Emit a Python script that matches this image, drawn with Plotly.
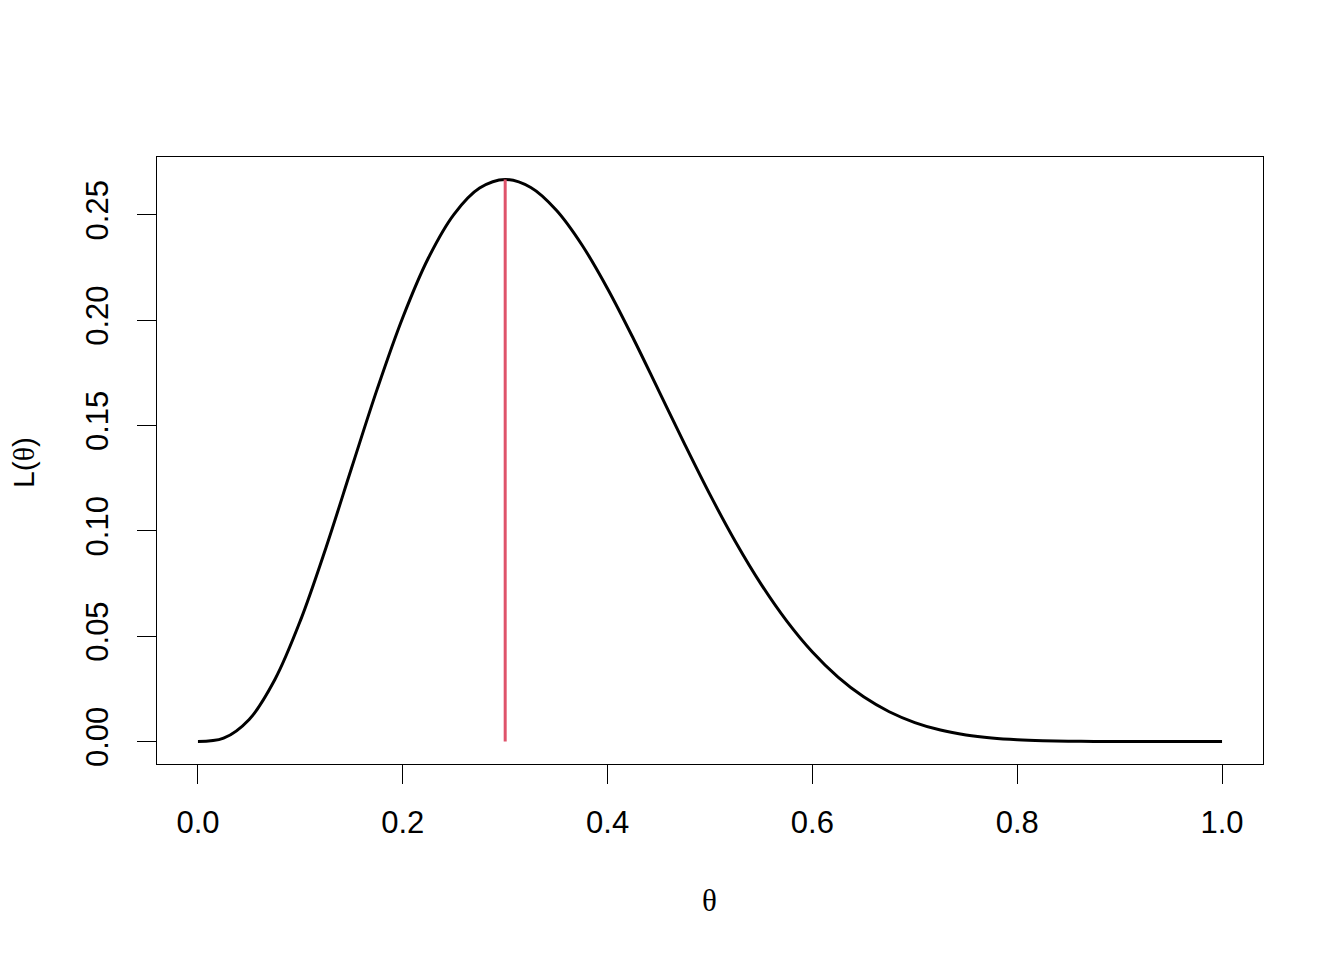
import plotly.graph_objects as go

theta = [0.0, 0.025, 0.05, 0.075, 0.10, 0.125, 0.15, 0.175, 0.20, 0.225, 0.25,
         0.275, 0.30, 0.325, 0.35, 0.375, 0.40, 0.425, 0.45, 0.475, 0.50,
         0.525, 0.55, 0.575, 0.60, 0.625, 0.65, 0.675, 0.70, 0.725, 0.75,
         0.775, 0.80, 0.825, 0.85, 0.875, 0.90, 0.925, 0.95, 0.975, 1.0]
likelihood = [0.0, 0.001571, 0.010475, 0.029333, 0.057396, 0.092039, 0.129834,
              0.167302, 0.201327, 0.229553, 0.250282, 0.262739, 0.266828,
              0.263009, 0.252218, 0.235741, 0.214991, 0.191469, 0.166478,
              0.141402, 0.117188, 0.094733, 0.074603, 0.057140, 0.042467,
              0.030551, 0.021203, 0.014134, 0.009002, 0.005439, 0.003090,
              0.001630, 0.000786, 0.000338, 0.000126, 0.000038, 0.0000087,
              0.0000012, 0.0, 0.0, 0.0]
mle_theta = 0.3
mle_value = 0.266828

x_ticks = [0.0, 0.2, 0.4, 0.6, 0.8, 1.0]
x_ticklabels = ["0.0", "0.2", "0.4", "0.6", "0.8", "1.0"]
y_ticks = [0.00, 0.05, 0.10, 0.15, 0.20, 0.25]
y_ticklabels = ["0.00", "0.05", "0.10", "0.15", "0.20", "0.25"]

fig = go.Figure()
fig.add_trace(go.Scatter(x=theta, y=likelihood, mode="lines",
                         line=dict(color="black", width=3, shape="spline", smoothing=1),
                         showlegend=False))
fig.add_trace(go.Scatter(x=[mle_theta, mle_theta], y=[0, mle_value], mode="lines",
                         line=dict(color="#DF536B", width=3), showlegend=False))

FS = 31
axis_common = dict(showgrid=False, zeroline=False, showline=True, mirror=True,
                   linecolor="black", linewidth=1, ticks="outside", ticklen=19,
                   tickwidth=1, tickcolor="black",
                   tickfont=dict(family="Liberation Sans, Arial", size=FS, color="black"))

# page has an 8px body margin, so the figure is offset by (8, 8)
OFF = 8
W, H = 1344 - OFF, 960 - OFF
l, r, t, b = 157 - OFF, 81, 157 - OFF, 196
pw, ph = W - l - r, H - t - b

def px_x(page_x):
    return (page_x - OFF - l) / pw

def px_y(page_y):
    return (H - b - (page_y - OFF)) / ph

fig.update_layout(
    width=W, height=H,
    margin=dict(l=l, r=r, t=t, b=b),
    paper_bgcolor="white", plot_bgcolor="white",
    xaxis=dict(range=[-0.04, 1.04], tickvals=x_ticks, ticktext=x_ticklabels,
               ticklabelstandoff=12, **axis_common),
    yaxis=dict(range=[-0.01067, 0.2775], tickvals=y_ticks, ticktext=y_ticklabels,
               tickangle=-90, ticklabelstandoff=17, **axis_common),
    annotations=[
        dict(text="θ", x=px_x(709), y=px_y(900), xref="paper", yref="paper",
             xanchor="center", yanchor="middle", showarrow=False,
             font=dict(family="Liberation Serif, Times New Roman, serif", size=FS, color="black")),
        dict(text="L(<span style='font-family:Liberation Serif, serif'>θ</span>)",
             x=px_x(23), y=px_y(463), xref="paper", yref="paper",
             xanchor="center", yanchor="middle", showarrow=False, textangle=-90,
             font=dict(family="Liberation Sans, Arial", size=FS - 1, color="black")),
    ],
)

fig.write_html("out.html")
